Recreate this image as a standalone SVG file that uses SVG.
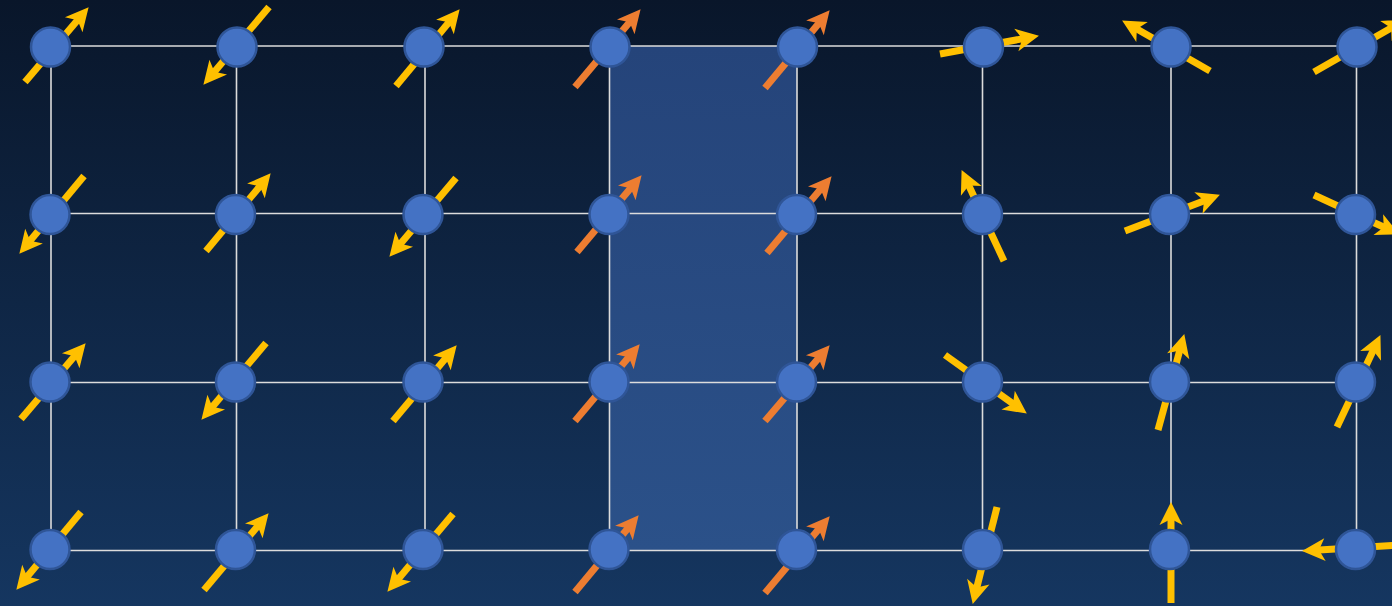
<svg xmlns="http://www.w3.org/2000/svg" width="1392" height="606" viewBox="0 0 1392 606">
<defs>
<linearGradient id="bg" x1="0" y1="0" x2="0" y2="1">
<stop offset="0" stop-color="#09162a"/>
<stop offset="1" stop-color="#153660"/>
</linearGradient>
<linearGradient id="hl" x1="0" y1="0" x2="0" y2="1">
<stop offset="0" stop-color="#25447a"/>
<stop offset="1" stop-color="#2b5189"/>
</linearGradient>
<marker id="hy" markerUnits="userSpaceOnUse" markerWidth="30" markerHeight="30" refX="14" refY="0" orient="auto" overflow="visible"><path d="M23,0 L0,-11.5 L6,0 L0,11.5 Z" fill="#FFC000"/></marker>
<marker id="ho" markerUnits="userSpaceOnUse" markerWidth="30" markerHeight="30" refX="14" refY="0" orient="auto" overflow="visible"><path d="M23,0 L0,-11.5 L6,0 L0,11.5 Z" fill="#ED7D31"/></marker>
<style>
.g{stroke:#dcdcdc;stroke-width:1.6;fill:none}
.y{stroke:#FFC000;stroke-width:7;fill:none;marker-end:url(#hy)}
.o{stroke:#ED7D31;stroke-width:7;fill:none;marker-end:url(#ho)}
.n{fill:#4472C4;stroke:#2F5597;stroke-width:2.5}
</style>
</defs>
<rect x="0" y="0" width="1392" height="606" fill="url(#bg)"/>
<rect id="highlight" x="610" y="46" width="187" height="505" fill="url(#hl)"/>
<g id="grid">
<line class="g" x1="50" y1="46" x2="1357" y2="46"/>
<line class="g" x1="50" y1="213.5" x2="1357" y2="213.5"/>
<line class="g" x1="50" y1="382.5" x2="1357" y2="382.5"/>
<line class="g" x1="50" y1="550.5" x2="1357" y2="550.5"/>
<line class="g" x1="51" y1="46" x2="51" y2="550"/>
<line class="g" x1="236.5" y1="46" x2="236.5" y2="550"/>
<line class="g" x1="425" y1="46" x2="425" y2="550"/>
<line class="g" x1="609.5" y1="46" x2="609.5" y2="550"/>
<line class="g" x1="797" y1="46" x2="797" y2="550"/>
<line class="g" x1="982.5" y1="46" x2="982.5" y2="550"/>
<line class="g" x1="1171" y1="46" x2="1171" y2="550"/>
<line class="g" x1="1356.5" y1="46" x2="1356.5" y2="550"/>
</g>
<g id="connectors">
<line class="y" x1="25" y1="82" x2="82.8" y2="14.1"/>
<line class="y" x1="269" y1="7" x2="209.2" y2="77.9"/>
<line class="y" x1="396" y1="86" x2="453.9" y2="16.2"/>
<line class="o" x1="575" y1="87" x2="634.8" y2="16.1"/>
<line class="o" x1="765" y1="88" x2="823.9" y2="17.2"/>
<line class="y" x1="940" y1="54" x2="1030.1" y2="37.4"/>
<line class="y" x1="1210" y1="71" x2="1129.9" y2="25"/>
<line class="y" x1="1314" y1="72" x2="1398.1" y2="24"/>

<line class="y" x1="84" y1="176" x2="25.1" y2="246.8"/>
<line class="y" x1="206" y1="251" x2="264.9" y2="180.2"/>
<line class="y" x1="456" y1="178" x2="395.2" y2="249.9"/>
<line class="o" x1="577" y1="252" x2="635.8" y2="182.1"/>
<line class="o" x1="767" y1="253" x2="825.8" y2="183.1"/>
<line class="y" x1="1004" y1="261" x2="965.4" y2="178.2"/>
<line class="y" x1="1125" y1="231" x2="1211.5" y2="197.9"/>
<line class="y" x1="1314" y1="195" x2="1391" y2="230.5"/>

<line class="y" x1="21" y1="419" x2="79.8" y2="350.1"/>
<line class="y" x1="266" y1="343" x2="207.2" y2="412.9"/>
<line class="y" x1="393" y1="421" x2="450.9" y2="352.1"/>
<line class="o" x1="575" y1="421" x2="633.9" y2="351.1"/>
<line class="o" x1="765" y1="421" x2="823.8" y2="352.1"/>
<line class="y" x1="945" y1="355" x2="1019.5" y2="408.3"/>
<line class="y" x1="1158" y1="430" x2="1181.9" y2="342.7"/>
<line class="y" x1="1337" y1="427" x2="1376.6" y2="343.2"/>

<line class="y" x1="81" y1="512" x2="22.1" y2="582.8"/>
<line class="y" x1="204" y1="590" x2="262.8" y2="520.1"/>
<line class="y" x1="453" y1="514" x2="393.2" y2="584.9"/>
<line class="o" x1="575" y1="592" x2="632.9" y2="522.2"/>
<line class="o" x1="765" y1="593" x2="823.9" y2="523.1"/>
<line class="y" x1="997" y1="507" x2="974.9" y2="595.2"/>
<line class="y" x1="1171" y1="603" x2="1171" y2="511"/>
<line class="y" x1="1400" y1="545" x2="1311" y2="550.5"/>
</g>
<g id="n0-0"><circle class="n" cx="50.5" cy="47" r="19.5"/></g>
<g id="n0-1"><circle class="n" cx="237" cy="47" r="19.5"/></g>
<g id="n0-2"><circle class="n" cx="424" cy="47" r="19.5"/></g>
<g id="n0-3"><circle class="n" cx="610" cy="47" r="19.5"/></g>
<g id="n0-4"><circle class="n" cx="797.5" cy="47" r="19.5"/></g>
<g id="n0-5"><circle class="n" cx="983.5" cy="47" r="19.5"/></g>
<g id="n0-6"><circle class="n" cx="1171" cy="47" r="19.5"/></g>
<g id="n0-7"><circle class="n" cx="1357" cy="47" r="19.5"/></g>

<g id="n1-0"><circle class="n" cx="50" cy="214.5" r="19.5"/></g>
<g id="n1-1"><circle class="n" cx="235.5" cy="214.5" r="19.5"/></g>
<g id="n1-2"><circle class="n" cx="423" cy="214.5" r="19.5"/></g>
<g id="n1-3"><circle class="n" cx="609" cy="214.5" r="19.5"/></g>
<g id="n1-4"><circle class="n" cx="796.5" cy="214.5" r="19.5"/></g>
<g id="n1-5"><circle class="n" cx="982.5" cy="214.5" r="19.5"/></g>
<g id="n1-6"><circle class="n" cx="1169.5" cy="214.5" r="19.5"/></g>
<g id="n1-7"><circle class="n" cx="1355.5" cy="214.5" r="19.5"/></g>

<g id="n2-0"><circle class="n" cx="50" cy="382" r="19.5"/></g>
<g id="n2-1"><circle class="n" cx="235.5" cy="382" r="19.5"/></g>
<g id="n2-2"><circle class="n" cx="423" cy="382" r="19.5"/></g>
<g id="n2-3"><circle class="n" cx="609" cy="382" r="19.5"/></g>
<g id="n2-4"><circle class="n" cx="796.5" cy="382" r="19.5"/></g>
<g id="n2-5"><circle class="n" cx="982.5" cy="382" r="19.5"/></g>
<g id="n2-6"><circle class="n" cx="1169.5" cy="382" r="19.5"/></g>
<g id="n2-7"><circle class="n" cx="1355.5" cy="382" r="19.5"/></g>

<g id="n3-0"><circle class="n" cx="50" cy="549.5" r="19.5"/></g>
<g id="n3-1"><circle class="n" cx="235.5" cy="549.5" r="19.5"/></g>
<g id="n3-2"><circle class="n" cx="423" cy="549.5" r="19.5"/></g>
<g id="n3-3"><circle class="n" cx="609" cy="549.5" r="19.5"/></g>
<g id="n3-4"><circle class="n" cx="796.5" cy="549.5" r="19.5"/></g>
<g id="n3-5"><circle class="n" cx="982.5" cy="549.5" r="19.5"/></g>
<g id="n3-6"><circle class="n" cx="1169.5" cy="549.5" r="19.5"/></g>
<g id="n3-7"><circle class="n" cx="1355.5" cy="549.5" r="19.5"/></g>
</svg>
